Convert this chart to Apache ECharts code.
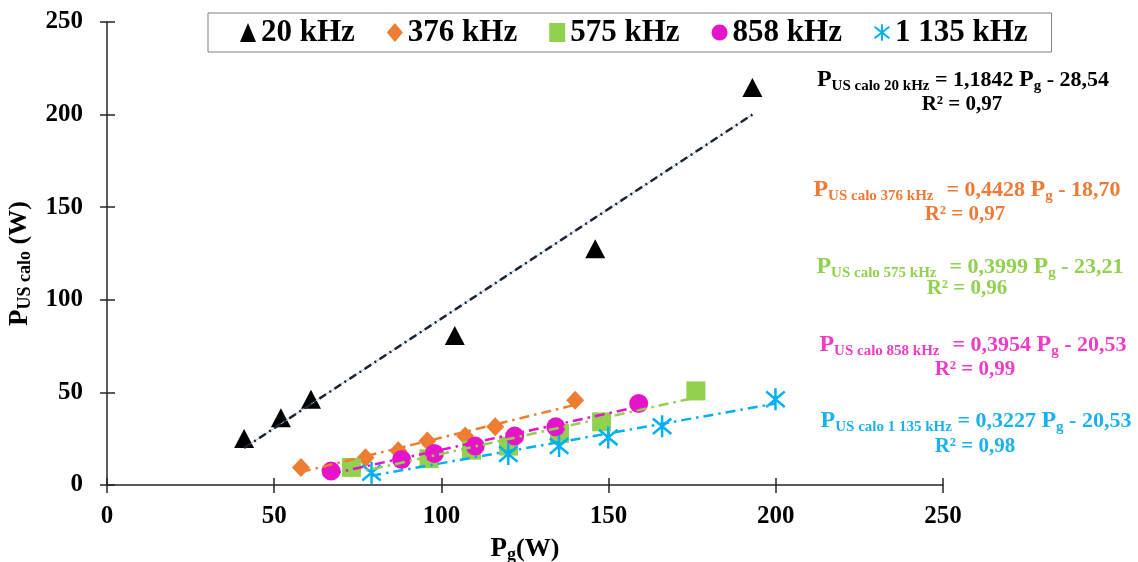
<!DOCTYPE html>
<html><head><meta charset="utf-8">
<script src="https://cdn.jsdelivr.net/npm/echarts@6/dist/echarts.min.js"></script>
<style>html,body{margin:0;padding:0;background:#fff}#c{width:1138px;height:562px}</style>
</head><body><div id="c"></div>
<script>
// ---------- data ----------
const seriesNames = ['20 kHz', '376 kHz', '575 kHz', '858 kHz', '1 135 kHz'];
const x20   = [41, 52, 61, 104, 146, 193];
const y20   = [25.1, 36.3, 46.3, 80.7, 127.5, 214.7];
const x376  = [58, 77.3, 87.1, 95.8, 107.1, 116.1, 140];
const y376  = [9.5, 14.7, 18.5, 23.7, 26.4, 31.4, 45.7];
const x575  = [73.1, 96.3, 109, 120.1, 135.3, 147.9, 176.1];
const y575  = [9.5, 14.2, 18.8, 21, 27.8, 34.1, 50.8];
const x858  = [67, 88.1, 97.9, 110.1, 121.9, 134.2, 159];
const y858  = [7.5, 13.8, 17.0, 21, 26.4, 31.4, 44];
const x1135 = [79.1, 120, 135.2, 149.9, 166, 199.9];
const y1135 = [6.6, 16.7, 21, 25.7, 31.7, 46.3];
// trend line end points
const trend20   = [[41, 20.0], [193, 200.0]];
const trend376  = [[58, 7.0], [140, 43.3]];
const trend575  = [[73, 6.0], [176, 47.2]];
const trend858  = [[67, 6.0], [159, 42.3]];
const trend1135 = [[79, 5.0], [200, 44.0]];
// equation labels
const eqSubs   = ['US calo 20 kHz', 'US calo 376 kHz  ', 'US calo 575 kHz  ', 'US calo 858 kHz  ', 'US calo 1 135 kHz'];
const eqSlopes = ['1,1842', '0,4428', '0,3999', '0,3954', '0,3227'];
const eqInts   = ['28,54', '18,70', '23,21', '20,53', '20,53'];
const eqR2     = ['0,97', '0,97', '0,96', '0,99', '0,98'];
const xTicks = [0, 50, 100, 150, 200, 250];
const yTicks = [0, 50, 100, 150, 200, 250];

// ---------- styling ----------
const FONT = 'Liberation Serif';
const colors = ['#000000', '#ED7D31', '#92D050', '#E414C8', '#00B0F0'];
const lineColors = ['#1F2330', '#ED7D31', '#92D050', '#E414C8', '#00B0F0'];
const textColors = ['#000000', '#EF7A35', '#92D050', '#F03CC4', '#1AB2EE'];
const asterisk = 'path://M44 0L56 0L56 100L44 100Z M8.7 10.3L98.7 80.3L91.3 89.7L1.3 19.7Z M1.3 80.3L91.3 10.3L98.7 19.7L8.7 89.7Z';
const symbols = ['triangle', 'diamond', 'rect', 'circle', asterisk];
const sizes = [[20, 19], [18, 19], [19, 19], [19, 19], [20, 22]];
const xs = [x20, x376, x575, x858, x1135];
const ys = [y20, y376, y575, y858, y1135];
const trends = [trend20, trend376, trend575, trend858, trend1135];

const zip = (a, b) => a.map((v, i) => [v, b[i]]);

const series = [];
seriesNames.forEach((n, i) => {
  series.push({
    name: n, type: 'scatter', data: zip(xs[i], ys[i]),
    symbol: symbols[i], symbolSize: sizes[i], z: 2,
    itemStyle: { color: colors[i], opacity: 1 }
  });
});
// thin light-blue underlay on the 20 kHz trend
series.push({
  name: 'u20', type: 'line', data: trend20, symbol: 'none', silent: true, z: 3,
  lineStyle: { color: '#9DC3E6', width: 1, type: 'solid' }
});
trends.forEach((t, i) => {
  series.push({
    name: 't' + i, type: 'line', data: t, symbol: 'none', silent: true, z: 4,
    lineStyle: { color: lineColors[i], width: 2.5, type: i === 0 ? [8, 4, 2, 4] : [10, 5, 2.5, 5] }
  });
});

const axisLineStyle = { color: '#262626', width: 1.5 };
const labelStyle = { fontFamily: FONT, fontWeight: 'bold', fontSize: 25, color: '#000' };

function eqText(i, cx, cy, cx2, cy2) {
  const rich = {
    P: { fontFamily: FONT, fontWeight: 'bold', fontSize: 24, lineHeight: 24, fill: textColors[i], color: textColors[i] },
    s: { fontFamily: FONT, fontWeight: 'bold', fontSize: 15, lineHeight: 16, padding: [12, 0, 0, 0], fill: textColors[i], color: textColors[i] },
    m: { fontFamily: FONT, fontWeight: 'bold', fontSize: 22, lineHeight: 24, fill: textColors[i], color: textColors[i] }
  };
  return [
    { type: 'text', x: cx, y: cy, z: 10,
      style: { text: '{P|P}{s|' + eqSubs[i] + '}{m| = ' + eqSlopes[i] + ' }{P|P}{s|g}{m| - ' + eqInts[i] + '}',
               rich: rich, align: 'center', verticalAlign: 'middle', fill: textColors[i] } },
    { type: 'text', x: cx2, y: cy2, z: 10,
      style: { text: 'R² = ' + eqR2[i], fontFamily: FONT, fontWeight: 'bold', fontSize: 21,
               align: 'center', verticalAlign: 'middle', fill: textColors[i] } }
  ];
}

const graphic = [].concat(
  eqText(0, 963, 80, 962, 105),
  eqText(1, 967, 190, 965, 215),
  eqText(2, 970, 267, 967, 289),
  eqText(3, 973, 345, 975, 370),
  eqText(4, 976, 421, 975, 447)
);

const nameRich = {
  P: { fontFamily: FONT, fontWeight: 'bold', fontSize: 27, lineHeight: 28, color: '#000' },
  s: { fontFamily: FONT, fontWeight: 'bold', fontSize: 18, lineHeight: 18, padding: [12, 0, 0, 0], color: '#000' },
  m: { fontFamily: FONT, fontWeight: 'bold', fontSize: 26, lineHeight: 28, color: '#000' }
};

const chart = echarts.init(document.getElementById('c'), null, { renderer: 'canvas' });
chart.setOption({
  animation: false,
  backgroundColor: '#fff',
  grid: { left: 107, right: 195, top: 22, bottom: 77, containLabel: false, outerBoundsMode: 'none' },
  legend: {
    data: seriesNames, left: 208, top: 13, padding: [4, 24, 4, 32], itemGap: 32,
    itemWidth: 16, itemHeight: 19, borderColor: '#7F7F7F', borderWidth: 1,
    backgroundColor: '#fff',
    textStyle: { fontFamily: FONT, fontWeight: 'bold', fontSize: 31, color: '#000' },
    selectedMode: false
  },
  xAxis: [{
    type: 'value', min: xTicks[0], max: xTicks[xTicks.length - 1], interval: xTicks[1] - xTicks[0],
    name: '{P|P}{s|g}{m|(W)}', nameLocation: 'middle', nameGap: 47,
    nameTextStyle: { rich: nameRich },
    axisLine: { show: true, lineStyle: axisLineStyle },
    axisTick: { show: true, length: 8, lineStyle: axisLineStyle },
    axisLabel: Object.assign({ margin: 19 }, labelStyle),
    splitLine: { show: false }
  }, {
    type: 'value', position: 'bottom', min: xTicks[0], max: xTicks[xTicks.length - 1], interval: xTicks[1] - xTicks[0],
    axisLine: { show: false }, axisLabel: { show: false }, splitLine: { show: false },
    axisTick: { show: true, inside: true, length: 7, lineStyle: axisLineStyle }
  }],
  yAxis: [{
    type: 'value', min: yTicks[0], max: yTicks[yTicks.length - 1], interval: yTicks[1] - yTicks[0],
    name: '{P|P}{s|US calo}{m| (W)}', nameLocation: 'middle', nameGap: 61, nameRotate: 90,
    nameTextStyle: { rich: nameRich, padding: [0, 20, 0, 0] },
    axisLine: { show: true, lineStyle: axisLineStyle },
    axisTick: { show: true, length: 7, lineStyle: axisLineStyle },
    axisLabel: Object.assign({ margin: 24 }, labelStyle),
    splitLine: { show: false }
  }, {
    type: 'value', position: 'left', min: yTicks[0], max: yTicks[yTicks.length - 1], interval: yTicks[1] - yTicks[0],
    axisLine: { show: false }, axisLabel: { show: false }, splitLine: { show: false },
    axisTick: { show: true, inside: true, length: 8, lineStyle: axisLineStyle }
  }],
  series: series,
  graphic: graphic
});
</script>
</body></html>
